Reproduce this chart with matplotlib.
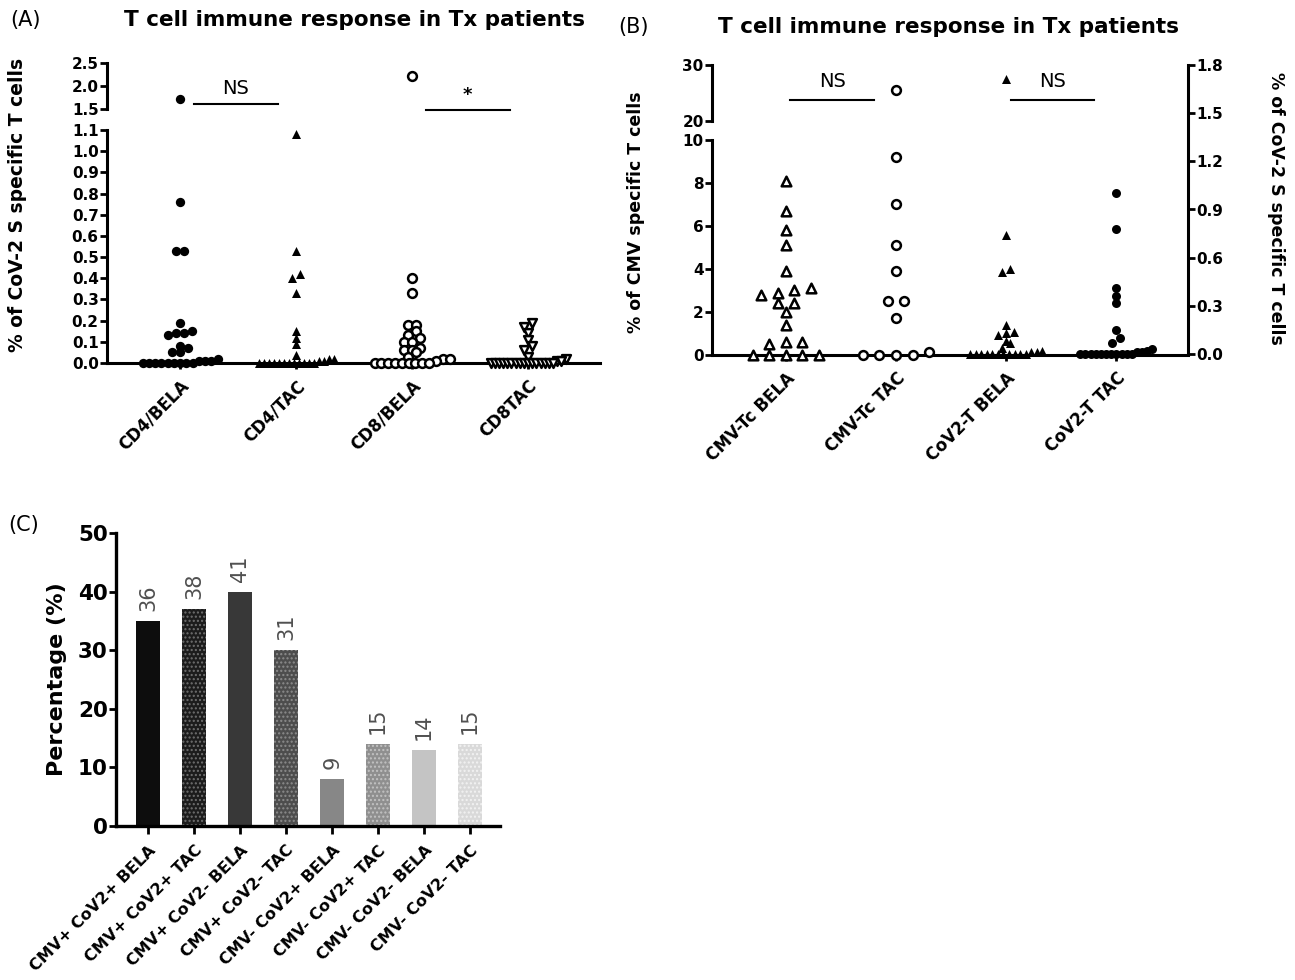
import numpy as np
import matplotlib.pyplot as plt

plt.rcParams['font.family'] = ['DejaVu Sans']

W, H = 1295, 980

# ---------------- data ----------------
# panel A: % of CoV-2 S specific T cells
a_groups = ['CD4/BELA', 'CD4/TAC', 'CD8/BELA', 'CD8TAC']
cd4_bela = [1.72, 0.76, 0.53, 0.53, 0.19, 0.15, 0.14, 0.14, 0.13, 0.08, 0.07,
            0.05, 0.05, 0.02, 0.01, 0.01, 0.01, 0, 0, 0, 0, 0, 0, 0, 0, 0]
cd4_tac = [1.08, 0.53, 0.42, 0.40, 0.33, 0.15, 0.12, 0.09, 0.04, 0.02, 0.02,
           0.01, 0.01, 0, 0, 0, 0, 0, 0, 0, 0, 0, 0, 0, 0]
cd8_bela = [2.22, 0.40, 0.33, 0.18, 0.18, 0.15, 0.13, 0.12, 0.10, 0.10, 0.07,
            0.06, 0.06, 0.05, 0.03, 0.02, 0.02, 0.01, 0, 0, 0, 0, 0, 0, 0, 0, 0]
cd8_tac = [0.19, 0.17, 0.14, 0.11, 0.08, 0.06, 0.03, 0.02, 0.01, 0.01,
           0, 0, 0, 0, 0, 0, 0, 0, 0, 0, 0, 0, 0, 0, 0, 0]
a_tests = [(0, 1, 'NS'), (2, 3, '*')]

# panel B: CMV (left axis) and CoV-2 (right axis)
b_groups = ['CMV-Tc BELA', 'CMV-Tc TAC', 'CoV2-T BELA', 'CoV2-T TAC']
cmv_bela = [8.1, 6.7, 5.8, 5.1, 3.9, 3.1, 3.0, 2.9, 2.8, 2.4, 2.4, 2.0, 1.4,
            0.6, 0.6, 0.5, 0, 0, 0, 0, 0]
cmv_tac = [25.5, 9.2, 7.0, 5.1, 3.9, 2.5, 2.5, 1.7, 0.15, 0, 0, 0, 0]
cov_bela = [1.71, 0.74, 0.53, 0.51, 0.18, 0.14, 0.13, 0.12, 0.07, 0.08, 0.04,
            0.02, 0.01, 0.01, 0, 0, 0, 0, 0, 0, 0, 0, 0, 0, 0]
cov_tac = [1.00, 0.78, 0.41, 0.36, 0.32, 0.15, 0.10, 0.07, 0.03, 0.02, 0.01,
           0.01, 0, 0, 0, 0, 0, 0, 0, 0, 0, 0, 0]
b_tests = [(0, 1, 'NS'), (2, 3, 'NS')]

# panel C: percentage of patients
c_groups = ['CMV+ CoV2+ BELA', 'CMV+ CoV2+ TAC', 'CMV+ CoV2- BELA', 'CMV+ CoV2- TAC',
            'CMV- CoV2+ BELA', 'CMV- CoV2+ TAC', 'CMV- CoV2- BELA', 'CMV- CoV2- TAC']
c_values = [35, 37, 40, 30, 8, 14, 13, 14]
c_labels = ['36', '38', '41', '31', '9', '15', '14', '15']
c_colors = ['#0d0d0d', '#1c1c1c', '#383838', '#4d4d4d', '#878787', '#8f8f8f', '#c4c4c4', '#d9d9d9']
c_dots = [None, '#707070', None, '#8c8c8c', None, '#c2c2c2', None, '#f2f2f2']


def px_axes(fig, x0, y0, x1, y1):
    return fig.add_axes([x0 / W, 1 - y1 / H, (x1 - x0) / W, (y1 - y0) / H])


def rows_offsets(values, ppu, row_px, step_px, max_px, cat_px):
    # GraphPad-like scatter: points close in y share a row, spread sideways
    vals = np.asarray(values, float)
    offs = np.zeros(len(vals))
    rows, cur, start = [], [], None
    for i in np.argsort(vals, kind='stable'):
        y = vals[i] * ppu
        if start is None or y - start >= row_px:
            if cur:
                rows.append(cur)
            cur, start = [i], y
        else:
            cur.append(i)
    rows.append(cur)
    for r in rows:
        n = len(r)
        if n < 2:
            continue
        step = min(step_px, max_px / (n - 1))
        for k, i in enumerate(r):
            offs[i] = (k - (n - 1) / 2) * step / cat_px
    return offs


def style(ax, lw=2.2, fs=10.5):
    for s in ['top', 'right']:
        ax.spines[s].set_visible(False)
    for s in ['left', 'bottom']:
        ax.spines[s].set_linewidth(lw)
    ax.tick_params(width=2, length=5, labelsize=fs, pad=1)


def broken_scatter(ax_lo, ax_hi, x, vals, brk, ppu, cat_px, row_px, step_px, max_px, **kw):
    vals = np.asarray(vals, float)
    lo = vals[vals <= brk]
    hi = vals[vals > brk]
    offs = rows_offsets(lo, ppu, row_px, step_px, max_px, cat_px)
    ax_lo.scatter(x + offs, lo, clip_on=False, zorder=3, **kw)
    if len(hi):
        ax_hi.scatter(np.full(len(hi), x), hi, clip_on=False, zorder=3, **kw)


fig = plt.figure(figsize=(W / 100, H / 100), dpi=100)

# ---------------- panel A ----------------
axA = px_axes(fig, 107, 130, 600, 363)
axA2 = px_axes(fig, 107, 63, 600, 109)
for ax in (axA, axA2):
    ax.set_xlim(-0.63, 3.62)
    style(ax, fs=11)
axA.set_ylim(0, 1.1)
axA.set_yticks(np.arange(0, 1.11, 0.1))
axA.set_yticklabels(['%.1f' % v for v in np.arange(0, 1.11, 0.1)], fontweight='bold')
axA2.set_ylim(1.5, 2.5)
axA2.set_yticks([1.5, 2.0, 2.5])
axA2.set_yticklabels(['1.5', '2.0', '2.5'], fontweight='bold')
axA2.spines['bottom'].set_visible(False)
axA2.set_xticks([])
axA2.patch.set_visible(False)
axA.set_xticks(range(4))
axA.set_xticklabels(a_groups, rotation=45, ha='right', rotation_mode='anchor',
                    fontsize=12, fontweight='bold')
axA.tick_params(axis='x', length=4, pad=6)

ppuA = 233 / 1.1
a_styles = [dict(marker='o', s=45, c='black', linewidths=0),
            dict(marker='^', s=42, c='black', linewidths=0),
            dict(marker='o', s=40, facecolors='white', edgecolors='black', linewidths=1.8),
            dict(marker='v', s=40, facecolors='white', edgecolors='black', linewidths=1.8)]
for i, vals in enumerate([cd4_bela, cd4_tac, cd8_bela, cd8_tac]):
    broken_scatter(axA, axA2, i, vals, 1.1, ppuA, 116, 6, 8, 75, **a_styles[i])

for i, j, lbl in a_tests:
    axA2.plot([i + 0.12, j - 0.16], [1.6 if lbl == 'NS' else 1.47] * 2, color='black', lw=1.5,
              clip_on=False)
    axA2.text((i + j) / 2 - 0.02, 1.75 if lbl == 'NS' else 1.6, lbl, ha='center', va='bottom',
              fontsize=14 if lbl == 'NS' else 13, fontweight='normal' if lbl == 'NS' else 'bold',
              clip_on=False)

# ---------------- panel B ----------------
axB = px_axes(fig, 712, 140, 1188, 355)
axB2 = px_axes(fig, 712, 65, 1188, 121)
axBr = px_axes(fig, 712, 65, 1188, 354)
for ax in (axB, axB2, axBr):
    ax.set_xlim(-0.67, 3.65)
    style(ax, fs=11)
axB.set_ylim(0, 10)
axB.set_yticks([0, 2, 4, 6, 8, 10])
axB.set_yticklabels(['0', '2', '4', '6', '8', '10'], fontweight='bold')
axB2.set_ylim(20, 30)
axB2.set_yticks([20, 30])
axB2.set_yticklabels(['20', '30'], fontweight='bold')
axB2.spines['bottom'].set_visible(False)
axB2.set_xticks([])
axB2.patch.set_visible(False)
axB.set_xticks(range(4))
axB.set_xticklabels(b_groups, rotation=45, ha='right', rotation_mode='anchor',
                    fontsize=12, fontweight='bold')
axB.tick_params(axis='x', length=4, pad=6)

axBr.patch.set_visible(False)
axBr.spines['left'].set_visible(False)
axBr.spines['bottom'].set_visible(False)
axBr.spines['right'].set_visible(True)
axBr.spines['right'].set_linewidth(2.2)
axBr.set_xticks([])
axBr.yaxis.tick_right()
axBr.set_ylim(0, 1.8)
rt = np.arange(0, 1.81, 0.3)
axBr.set_yticks(rt)
axBr.set_yticklabels(['%.1f' % v for v in rt], fontweight='bold', fontsize=11)

ppuB = 215 / 10
ppuBr = 289 / 1.8
broken_scatter(axB, axB2, 0, cmv_bela, 10, ppuB, 110, 7, 16.5, 66,
               marker='^', s=48, facecolors='white', edgecolors='black', linewidths=1.8)
broken_scatter(axB, axB2, 1, cmv_tac, 10, ppuB, 110, 7, 16.5, 66,
               marker='o', s=40, facecolors='white', edgecolors='black', linewidths=1.8)
for i, vals, mk in [(2, cov_bela, '^'), (3, cov_tac, 'o')]:
    offs = rows_offsets(vals, ppuBr, 5, 8, 72, 110)
    axBr.scatter(i + offs, vals, marker=mk, s=42, c='black', linewidths=0,
                 clip_on=False, zorder=3)

for i, j, lbl in b_tests:
    axB2.plot([i + 0.04, j - 0.2], [23.7, 23.7], color='black', lw=1.5, clip_on=False)
    axB2.text((i + j) / 2 - 0.08, 25.3, lbl, ha='center', va='bottom', fontsize=14,
              clip_on=False)

# ---------------- panel C ----------------
axC = px_axes(fig, 116, 533, 500, 826)
style(axC, lw=2.4, fs=15.5)
axC.set_xlim(-0.7, 7.65)
axC.set_ylim(0, 50)
axC.set_yticks(range(0, 51, 10))
axC.set_yticklabels([str(v) for v in range(0, 51, 10)], fontweight='bold')
xs = np.arange(len(c_values))
for x, v, col, dot in zip(xs, c_values, c_colors, c_dots):
    if dot is None:
        axC.bar(x, v, width=0.52, color=col, linewidth=0)
    else:
        axC.bar(x, v, width=0.52, color=col, edgecolor=dot, linewidth=0, hatch='....')
for x, v, lbl in zip(xs, c_values, c_labels):
    axC.annotate(lbl, (x, v), xytext=(0, 7), textcoords='offset points', rotation=90,
                 ha='center', va='bottom', fontsize=15, color='#505050')
axC.set_xticks(xs)
axC.set_xticklabels(c_groups, rotation=45, ha='right', rotation_mode='anchor',
                    fontsize=11.5, fontweight='bold')
axC.tick_params(axis='x', length=6, pad=6)
axC.set_ylabel('Percentage (%)', fontsize=16, fontweight='bold', labelpad=8)

# ---------------- texts ----------------
title = 'T cell immune response in Tx patients'
fig.text(10 / W, 1 - 20 / H, '(A)', fontsize=15, va='center')
fig.text(618 / W, 1 - 27 / H, '(B)', fontsize=15, va='center')
fig.text(8 / W, 1 - 525 / H, '(C)', fontsize=15, va='center')
fig.text(355 / W, 1 - 20 / H, title, fontsize=15.5, fontweight='bold', ha='center', va='center')
fig.text(949 / W, 1 - 27 / H, title, fontsize=15.5, fontweight='bold', ha='center', va='center')
fig.text(18 / W, 1 - 205 / H, '% of CoV-2 S specific T cells', rotation=90, fontsize=13.5,
         fontweight='bold', ha='center', va='center')
fig.text(636 / W, 1 - 212 / H, '% of CMV specific T cells', rotation=90, fontsize=12.5,
         fontweight='bold', ha='center', va='center')
fig.text(1276 / W, 1 - 208 / H, '% of CoV-2 S specific T cells', rotation=270, fontsize=12.5,
         fontweight='bold', ha='center', va='center')

fig.savefig('out.png', dpi=100)
